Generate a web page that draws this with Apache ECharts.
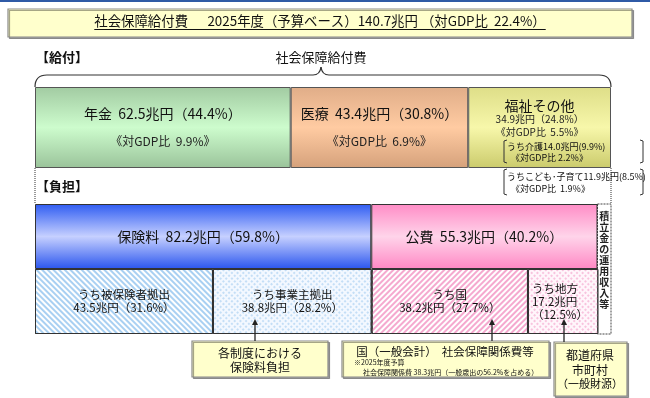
<!DOCTYPE html>
<html>
<head>
<meta charset="utf-8">
<script src="https://cdn.jsdelivr.net/npm/echarts@6/dist/echarts.min.js"></script>
<style>
html, body { margin: 0; padding: 0; background: #fff; }
#chart { width: 650px; height: 398px; }
</style>
</head>
<body>
<div id="chart"></div>
<script>
// 給付
const kyufuNames = ['年金', '医療', '福祉その他'];
const kyufuValues = [62.5, 43.4, 34.9];
const kyufuShares = [44.4, 30.8, 24.8];
const kyufuGdp = [9.9, 6.9, 5.5];
// 福祉その他のうち
const fukushiSubNames = ['うち介護', 'うちこども･子育て'];
const fukushiSubValues = [14.0, 11.9];
const fukushiSubShares = [9.9, 8.5];
const fukushiSubGdp = [2.2, 1.9];
// 負担
const futanNames = ['保険料', '公費'];
const futanValues = [82.2, 55.3];
const futanShares = [59.8, 40.2];
const reserveName = '積立金の運用収入等';
// 負担の内訳
const uchiNames = ['うち被保険者拠出', 'うち事業主拠出', 'うち国', 'うち地方'];
const uchiValues = [43.5, 38.8, 38.2, 17.2];
const uchiShares = [31.6, 28.2, 27.7, 12.5];
// 総額
const totalValue = 140.7;
const totalGdp = 22.4;
const axisMax = 140.8;

const FONT = '"Noto Sans CJK JP", "Noto Sans", sans-serif';
const chart = echarts.init(document.getElementById('chart'));

function vGrad(c0, c1, c2) {
  return new echarts.graphic.LinearGradient(0, 0, 0, 1, [
    { offset: 0, color: c0 }, { offset: 0.5, color: c1 }, { offset: 1, color: c2 }
  ]);
}
function stripes(color, rot) {
  return { symbol: 'rect', symbolSize: 1, dashArrayX: [1, 0], dashArrayY: [2, 2], rotation: rot, color: color };
}
function dots(color) {
  return { symbol: 'rect', symbolSize: 1, dashArrayX: [2, 2], dashArrayY: [2, 2], rotation: Math.PI / 4, color: color };
}
function txt(text, x, y, size, opt) {
  opt = opt || {};
  return {
    type: 'text', z: 50,
    style: {
      text: text, x: x, y: y, fill: opt.color || '#111',
      font: (opt.bold ? 'bold ' : '') + size + 'px ' + FONT,
      align: opt.align || 'center', verticalAlign: 'middle'
    }
  };
}
function poly(points, opt) {
  opt = opt || {};
  return {
    type: 'polyline', z: 40,
    shape: { points: points },
    style: { fill: null, stroke: opt.stroke || '#333', lineWidth: opt.lw || 1, lineDash: opt.dash || null }
  };
}
function curve(x1, y1, cx, cy, x2, y2) {
  return {
    type: 'bezierCurve', z: 40,
    shape: { x1: x1, y1: y1, cpx1: cx, cpy1: cy, x2: x2, y2: y2 },
    style: { fill: null, stroke: '#333', lineWidth: 1.2 }
  };
}
function box(x, y, w, h) {
  return {
    type: 'rect', z: 30,
    shape: { x: x, y: y, width: w, height: h },
    style: { fill: '#ffffcc', stroke: '#8a8a8a', lineWidth: 1.2,
      shadowColor: 'rgba(0,0,0,0.35)', shadowOffsetX: 1.5, shadowOffsetY: 1.5 }
  };
}
function arrow(x, y1, y2) {
  return [
    { type: 'line', z: 40, shape: { x1: x, y1: y1 + 5, x2: x, y2: y2 }, style: { stroke: '#222', lineWidth: 1.3 } },
    { type: 'polygon', z: 40, shape: { points: [[x, y1], [x - 3, y1 + 6], [x + 3, y1 + 6]] }, style: { fill: '#222' } }
  ];
}

// 給付の系列
const kyufuColors = [
  vGrad('#a2cba2', '#cdfccd', '#9ac39a'),
  vGrad('#e0ad88', '#ffcba2', '#d5a17b'),
  vGrad('#dede88', '#f7f7aa', '#cbcb6c')
];
const kyufuSeries = kyufuNames.map(function (n, i) {
  const main = n + '  ' + kyufuValues[i].toFixed(1) + '兆円（' + kyufuShares[i].toFixed(1) + '%）';
  const gdp = '《対GDP比  ' + kyufuGdp[i].toFixed(1) + '%》';
  let label;
  if (i < 2) {
    label = {
      show: true, position: 'inside',
      formatter: '{a|' + main + '}\n{b|' + gdp + '}',
      rich: {
        a: { fontSize: 14, lineHeight: 27, color: '#111', fontFamily: FONT },
        b: { fontSize: 12, lineHeight: 27, color: '#222', fontFamily: FONT }
      }
    };
  } else {
    label = {
      show: true, position: ['50%', 11], align: 'center', verticalAlign: 'top',
      formatter: '{a|' + n + '}\n{b|' + kyufuValues[i].toFixed(1) + '兆円（' + kyufuShares[i].toFixed(1) + '%）}\n{b|' + gdp + '}',
      rich: {
        a: { fontSize: 14, lineHeight: 15, color: '#111', fontFamily: FONT },
        b: { fontSize: 10, lineHeight: 13, color: '#222', fontFamily: FONT }
      }
    };
  }
  return {
    name: n, type: 'bar', xAxisIndex: 0, yAxisIndex: 0, stack: 'kyufu', barWidth: '100%',
    data: [kyufuValues[i]],
    itemStyle: { color: kyufuColors[i], borderColor: '#555', borderWidth: 1 },
    label: label
  };
});

// 負担の系列
const futanColors = [
  vGrad('#2f5cf2', '#c6d0ff', '#2a55ee'),
  vGrad('#ff8cc6', '#ffd4ea', '#ff88c4')
];
const futanSeries = futanNames.map(function (n, i) {
  return {
    name: n, type: 'bar', xAxisIndex: 1, yAxisIndex: 1, stack: 'futan', barWidth: '100%',
    data: [futanValues[i], '-'],
    itemStyle: { color: futanColors[i], borderColor: '#333', borderWidth: 1 },
    label: {
      show: true, position: 'inside', color: '#111', fontSize: 14, fontFamily: FONT,
      formatter: n + '  ' + futanValues[i].toFixed(1) + '兆円（' + futanShares[i].toFixed(1) + '%）'
    }
  };
});
futanSeries[0].markArea = {
  silent: true,
  itemStyle: { color: '#fff', borderColor: '#444', borderWidth: 1, borderType: [2, 1], opacity: 1 },
  label: {
    show: true, position: 'insideTop', distance: 7, color: '#222', fontSize: 10, lineHeight: 11,
    fontWeight: 'bold', fontFamily: FONT, formatter: reserveName.split('').join('\n')
  },
  data: [[{ xAxis: futanValues[0] + futanValues[1] }, { xAxis: axisMax }]]
};

const uchiFill = [
  { color: '#ffffff', decal: stripes('#a9d0f2', Math.PI / 4) },
  { color: '#f3f8ff', decal: dots('#c4def6') },
  { color: '#ffffff', decal: stripes('#f5a9cf', -Math.PI / 4) },
  { color: '#fff6fb', decal: dots('#f8c3de') }
];
const uchiSeries = uchiNames.map(function (n, i) {
  const last = i === uchiNames.length - 1;
  return {
    name: n, type: 'bar', xAxisIndex: 1, yAxisIndex: 1, stack: 'futan', barWidth: '100%',
    data: ['-', uchiValues[i]],
    itemStyle: { color: uchiFill[i].color, decal: uchiFill[i].decal, borderColor: '#333', borderWidth: 1 },
    label: {
      show: true, position: last ? 'insideLeft' : 'inside', distance: 4,
      color: '#111', fontSize: 11.5, lineHeight: 13, fontFamily: FONT,
      formatter: last
        ? n + '\n' + uchiValues[i].toFixed(1) + '兆円\n（' + uchiShares[i].toFixed(1) + '%）'
        : n + '\n' + uchiValues[i].toFixed(1) + '兆円（' + uchiShares[i].toFixed(1) + '%）'
    }
  };
});

// 見出し・注記
const titleText = '社会保障給付費　  2025年度（予算ベース）140.7兆円 （対GDP比  ' + totalGdp.toFixed(1) + '%）';
const titleSize = 13.4;
const ctx = document.createElement('canvas').getContext('2d');
ctx.font = titleSize + 'px ' + FONT;
const titleW = ctx.measureText(titleText).width;
const titleX = 320;

let graphics = [
  { type: 'rect', shape: { x: 0, y: 0, width: 650, height: 2 }, style: { fill: '#2f5aa6' } },
  box(8, 9, 624, 28),
  txt(titleText, titleX, 21, titleSize),
  { type: 'line', z: 50, shape: { x1: titleX - titleW / 2, y1: 29.5, x2: titleX + titleW / 2, y2: 29.5 }, style: { stroke: '#111', lineWidth: 1 } },
  txt('【給付】', 36, 57, 13, { bold: true, align: 'left' }),
  txt('社会保障給付費', 321, 57, 13),
  curve(35, 87, 35, 75, 47, 75),
  poly([[47, 75], [313, 75]], { lw: 1.2 }),
  curve(313, 75, 320, 75, 321, 67),
  curve(321, 67, 322, 75, 329, 75),
  poly([[329, 75], [599, 75]], { lw: 1.2 }),
  curve(599, 75, 611, 75, 611, 87),
  poly([[35, 168], [35, 204]], { dash: [1, 1] }),
  poly([[611, 168], [611, 204]], { dash: [1, 1] }),
  txt('【負担】', 36, 186, 13, { bold: true, align: 'left' }),
  // 福祉その他のうち
  poly([[507, 140], [504, 141], [504, 162], [507, 163]]),
  poly([[640, 140], [643, 141], [643, 162], [640, 163]]),
  txt(fukushiSubNames[0] + fukushiSubValues[0].toFixed(1) + '兆円(' + fukushiSubShares[0].toFixed(1) + '%)', 507, 147, 9, { align: 'left' }),
  txt('《対GDP比 ' + fukushiSubGdp[0].toFixed(1) + '%》', 511, 158, 9, { align: 'left' }),
  poly([[507, 169], [504, 170], [504, 194], [507, 195]]),
  poly([[640, 169], [643, 170], [643, 194], [640, 195]]),
  txt(fukushiSubNames[1] + fukushiSubValues[1].toFixed(1) + '兆円(' + fukushiSubShares[1].toFixed(1) + '%)', 507, 177, 9, { align: 'left' }),
  txt('《対GDP比  ' + fukushiSubGdp[1].toFixed(1) + '%》', 511, 189, 9, { align: 'left' }),
  // 吹き出し
  box(192, 341, 136, 36),
  txt('各制度における', 260, 353, 12),
  txt('保険料負担', 260, 367, 12),
  box(342, 341, 207, 36),
  txt('国（一般会計）  社会保障関係費等', 445, 352, 11.5),
  txt('※2025年度予算', 354, 362, 7, { align: 'left' }),
  txt('社会保障関係費 38.3兆円（一般歳出の56.2%を占める）', 363, 372, 7, { align: 'left' }),
  box(554, 342, 73, 54),
  txt('都道府県', 590, 355, 12),
  txt('市町村', 590, 370, 12),
  txt('（一般財源）', 590, 384, 11)
];
graphics = graphics.concat(arrow(255, 319, 341), arrow(492, 319, 341), arrow(564, 319, 342));

const option = {
  animation: false,
  textStyle: { fontFamily: FONT },
  grid: [
    { left: 35, right: 39, top: 87, height: 81 },
    { left: 35, right: 39, top: 204, height: 130 }
  ],
  xAxis: [
    { type: 'value', gridIndex: 0, min: 0, max: axisMax, show: false },
    { type: 'value', gridIndex: 1, min: 0, max: axisMax, show: false }
  ],
  yAxis: [
    { type: 'category', gridIndex: 0, data: ['給付'], show: false },
    { type: 'category', gridIndex: 1, data: ['負担', '内訳'], inverse: true, show: false }
  ],
  series: kyufuSeries.concat(futanSeries, uchiSeries),
  graphic: graphics
};
chart.setOption(option);
</script>
</body>
</html>
